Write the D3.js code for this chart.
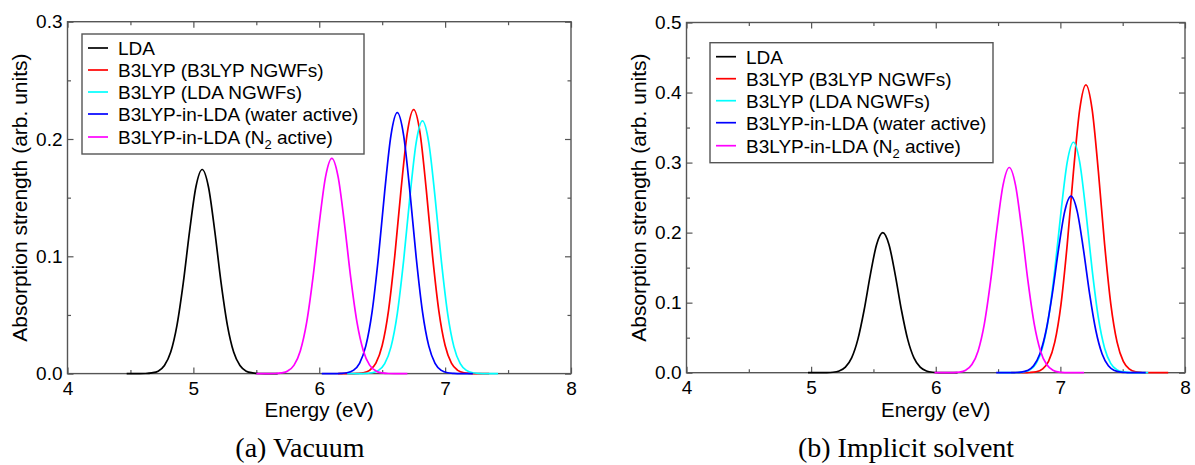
<!DOCTYPE html>
<html>
<head>
<meta charset="utf-8">
<script src="https://cdn.jsdelivr.net/npm/d3@7"></script>
<style>
  body { margin: 0; background: #fff; }
  text { font-family: "Liberation Sans", Arial, sans-serif; fill: #000; }
</style>
</head>
<body>
<script>
// serienamn och färger (samma i båda panelerna)
var seriesNames = ["LDA", "B3LYP (B3LYP NGWFs)", "B3LYP (LDA NGWFs)", "B3LYP-in-LDA (water active)", "B3LYP-in-LDA (N2 active)"];
var seriesColors = ["#000000", "#ff0000", "#00ffff", "#0000ff", "#ff00ff"];

// axlar
var xTicks = [4, 5, 6, 7, 8];
var xMinor = [4.5, 5.5, 6.5, 7.5];
var yTicksVac = [0, 0.1, 0.2, 0.3];
var yMinorVac = [0.05, 0.15, 0.25];
var yTicksSol = [0, 0.1, 0.2, 0.3, 0.4, 0.5];
var yMinorSol = [0.05, 0.15, 0.25, 0.35, 0.45];

// (a) vakuum: [energi (eV), absorption]
var vacLDA = [[4.47,0],[4.57,0],[4.62,0.0001],[4.67,0.0006],[4.72,0.0021],[4.77,0.0069],[4.82,0.0184],[4.87,0.0414],[4.92,0.0776],[4.97,0.1215],[5.02,0.1591],[5.07,0.174],
  [5.12,0.1591],[5.17,0.1215],[5.22,0.0776],[5.27,0.0414],[5.32,0.0184],[5.37,0.0069],[5.42,0.0021],[5.47,0.0006],[5.52,0.0001],[5.57,0],[5.67,0]];
var vacB3 = [[6.15,0],[6.25,0],[6.30,0.0002],[6.35,0.0007],[6.40,0.0028],[6.45,0.0089],[6.50,0.0239],[6.55,0.0535],[6.60,0.1003],[6.65,0.1571],[6.70,0.2057],[6.75,0.225],
  [6.80,0.2057],[6.85,0.1571],[6.90,0.1003],[6.95,0.0535],[7.00,0.0239],[7.05,0.0089],[7.10,0.0028],[7.15,0.0007],[7.20,0.0002],[7.25,0],[7.35,0]];
var vacB3Lda = [[6.22,0],[6.32,0],[6.37,0.0002],[6.42,0.0007],[6.47,0.0027],[6.52,0.0085],[6.57,0.0228],[6.62,0.0512],[6.67,0.0961],[6.72,0.1505],[6.77,0.197],[6.82,0.2155],
  [6.87,0.197],[6.92,0.1505],[6.97,0.0961],[7.02,0.0512],[7.07,0.0228],[7.12,0.0085],[7.17,0.0027],[7.22,0.0007],[7.27,0.0002],[7.32,0],[7.42,0]];
var vacWater = [[6.02,0],[6.12,0],[6.17,0.0002],[6.22,0.0007],[6.27,0.0027],[6.32,0.0088],[6.37,0.0236],[6.42,0.0529],[6.47,0.0992],[6.52,0.1554],[6.57,0.2034],[6.62,0.2225],
  [6.67,0.2034],[6.72,0.1554],[6.77,0.0992],[6.82,0.0529],[6.87,0.0236],[6.92,0.0088],[6.97,0.0027],[7.02,0.0007],[7.07,0.0002],[7.12,0],[7.22,0]];
var vacN2 = [[5.50,0],[5.60,0],[5.65,0.0001],[5.70,0.0006],[5.75,0.0023],[5.80,0.0072],[5.85,0.0195],[5.90,0.0436],[5.95,0.0818],[6.00,0.1281],[6.05,0.1677],[6.10,0.1835],
  [6.15,0.1677],[6.20,0.1281],[6.25,0.0818],[6.30,0.0436],[6.35,0.0195],[6.40,0.0072],[6.45,0.0023],[6.50,0.0006],[6.55,0.0001],[6.60,0],[6.70,0]];

// (b) implicit lösningsmedel
var solLDA = [[4.975,0],[5.075,0],[5.125,0.0001],[5.175,0.0006],[5.225,0.0025],[5.275,0.0079],[5.325,0.0212],[5.375,0.0476],[5.425,0.0892],[5.475,0.1397],[5.525,0.1828],[5.575,0.2],
  [5.625,0.1828],[5.675,0.1397],[5.725,0.0892],[5.775,0.0476],[5.825,0.0212],[5.875,0.0079],[5.925,0.0025],[5.975,0.0006],[6.025,0.0001],[6.075,0],[6.175,0]];
var solB3 = [[6.605,0],[6.705,0],[6.755,0.0003],[6.805,0.0013],[6.855,0.0051],[6.905,0.0162],[6.955,0.0436],[7.005,0.0977],[7.055,0.1832],[7.105,0.287],[7.155,0.3757],[7.205,0.411],
  [7.255,0.3757],[7.305,0.287],[7.355,0.1832],[7.405,0.0977],[7.455,0.0436],[7.505,0.0162],[7.555,0.0051],[7.605,0.0013],[7.655,0.0003],[7.705,0],[7.865,0]];
var solB3Lda = [[6.505,0],[6.605,0],[6.655,0.0002],[6.705,0.0011],[6.755,0.004],[6.805,0.013],[6.855,0.0349],[6.905,0.0782],[6.955,0.1467],[7.005,0.2297],[7.055,0.3007],[7.105,0.329],
  [7.155,0.3007],[7.205,0.2297],[7.255,0.1467],[7.305,0.0782],[7.355,0.0349],[7.405,0.013],[7.455,0.004],[7.505,0.0011],[7.555,0.0002],[7.605,0],[7.705,0]];
var solWater = [[6.485,0],[6.585,0],[6.635,0.0002],[6.685,0.0008],[6.735,0.0031],[6.785,0.01],[6.835,0.0267],[6.885,0.0599],[6.935,0.1123],[6.985,0.176],[7.035,0.2304],[7.085,0.252],
  [7.135,0.2304],[7.185,0.176],[7.235,0.1123],[7.285,0.0599],[7.335,0.0267],[7.385,0.01],[7.435,0.0031],[7.485,0.0008],[7.535,0.0002],[7.585,0],[7.685,0]];
var solN2 = [[5.99,0],[6.09,0],[6.14,0.0002],[6.19,0.0009],[6.24,0.0036],[6.29,0.0116],[6.34,0.0311],[6.39,0.0697],[6.44,0.1306],[6.49,0.2046],[6.54,0.2678],[6.59,0.293],
  [6.64,0.2678],[6.69,0.2046],[6.74,0.1306],[6.79,0.0697],[6.84,0.0311],[6.89,0.0116],[6.94,0.0036],[6.99,0.0009],[7.04,0.0002],[7.09,0],[7.19,0]];

// panelernas placering
var panels = [
  { series: [vacLDA, vacB3, vacB3Lda, vacWater, vacN2], yTicks: yTicksVac, yMinor: yMinorVac,
    left: 67.5, right: 571, top: 21.7, bottom: 373.6,
    legend: { x: 82, y: 34, w: 282, h: 120 }, caption: "(a) Vacuum", captionX: 300 },
  { series: [solLDA, solB3, solB3Lda, solWater, solN2], yTicks: yTicksSol, yMinor: yMinorSol,
    left: 686.5, right: 1185, top: 22.5, bottom: 372.7,
    legend: { x: 710, y: 42.7, w: 283, h: 120 }, caption: "(b) Implicit solvent", captionX: 906 }
];

var svg = d3.select("body").append("svg")
  .attr("width", 1195)
  .attr("height", 465);

var frameColor = "#555";

panels.forEach(function(p) {
  var xScale = d3.scaleLinear().domain([4, 8]).range([p.left, p.right]);
  var yScale = d3.scaleLinear().domain([0, d3.max(p.yTicks)]).range([p.bottom, p.top]);
  var g = svg.append("g");

  // ticks inåt på alla fyra sidor
  function addAxis(axis, tx, ty) {
    var a = g.append("g").attr("transform", "translate(" + tx + "," + ty + ")").call(axis);
    a.select(".domain").remove();
    a.selectAll("line").attr("stroke", frameColor).attr("stroke-width", 1.2);
    a.selectAll("text").style("font-size", "19px").attr("fill", "#000");
    return a;
  }
  addAxis(d3.axisBottom(xScale).tickValues(xTicks).tickSize(-6).tickSizeOuter(0).tickPadding(8).tickFormat(d3.format("d")), 0, p.bottom);
  addAxis(d3.axisBottom(xScale).tickValues(xMinor).tickSize(-3.5).tickSizeOuter(0).tickFormat(""), 0, p.bottom);
  addAxis(d3.axisTop(xScale).tickValues(xTicks).tickSize(-6).tickSizeOuter(0).tickFormat(""), 0, p.top);
  addAxis(d3.axisTop(xScale).tickValues(xMinor).tickSize(-3.5).tickSizeOuter(0).tickFormat(""), 0, p.top);
  addAxis(d3.axisLeft(yScale).tickValues(p.yTicks).tickSize(-6).tickSizeOuter(0).tickPadding(5).tickFormat(d3.format(".1f")), p.left, 0);
  addAxis(d3.axisLeft(yScale).tickValues(p.yMinor).tickSize(-3.5).tickSizeOuter(0).tickFormat(""), p.left, 0);
  addAxis(d3.axisRight(yScale).tickValues(p.yTicks).tickSize(-6).tickSizeOuter(0).tickFormat(""), p.right, 0);
  addAxis(d3.axisRight(yScale).tickValues(p.yMinor).tickSize(-3.5).tickSizeOuter(0).tickFormat(""), p.right, 0);

  // ram runt plottytan
  g.append("rect")
    .attr("x", p.left).attr("y", p.top)
    .attr("width", p.right - p.left).attr("height", p.bottom - p.top)
    .attr("fill", "none").attr("stroke", frameColor).attr("stroke-width", 1.4);

  // spektrumkurvor
  var line = d3.line()
    .x(function(d) { return xScale(d[0]); })
    .y(function(d) { return yScale(d[1]); })
    .curve(d3.curveMonotoneX);

  p.series.forEach(function(s, i) {
    g.append("path")
      .attr("d", line(s))
      .attr("fill", "none")
      .attr("stroke", seriesColors[i])
      .attr("stroke-width", 1.7);
  });

  // legend
  var L = p.legend;
  g.append("rect")
    .attr("x", L.x).attr("y", L.y).attr("width", L.w).attr("height", L.h)
    .attr("fill", "#fff").attr("stroke", frameColor).attr("stroke-width", 1.4);

  seriesNames.forEach(function(name, i) {
    var ry = L.y + 14 + i * 22 + (i == 4 ? 1 : 0);
    g.append("line")
      .attr("x1", L.x + 6).attr("x2", L.x + 26)
      .attr("y1", ry).attr("y2", ry)
      .attr("stroke", seriesColors[i]).attr("stroke-width", 1.7);
    var t = g.append("text")
      .attr("x", L.x + 36).attr("y", ry + 6.8)
      .style("font-size", "19px");
    if (name.indexOf("N2") >= 0) {
      var parts = name.split("N2");
      t.append("tspan").text(parts[0] + "N");
      t.append("tspan").text("2").style("font-size", "13px").attr("dy", 5);
      t.append("tspan").text(parts[1]).attr("dy", -5);
    } else {
      t.text(name);
    }
  });

  // axeltitlar
  g.append("text")
    .attr("x", (p.left + p.right) / 2).attr("y", 417)
    .attr("text-anchor", "middle")
    .style("font-size", "20.5px")
    .text("Energy (eV)");

  g.append("text")
    .attr("transform", "translate(" + (p.left - 48) + "," + ((p.top + p.bottom) / 2) + ") rotate(-90)")
    .attr("text-anchor", "middle")
    .attr("dy", "0.35em")
    .style("font-size", "21px")
    .text("Absorption strength (arb. units)");

  // underrubrik
  g.append("text")
    .attr("x", p.captionX).attr("y", 457)
    .attr("text-anchor", "middle")
    .style("font-family", "'Liberation Serif', 'Times New Roman', serif")
    .style("font-size", "28px")
    .text(p.caption);
});
</script>
</body>
</html>
